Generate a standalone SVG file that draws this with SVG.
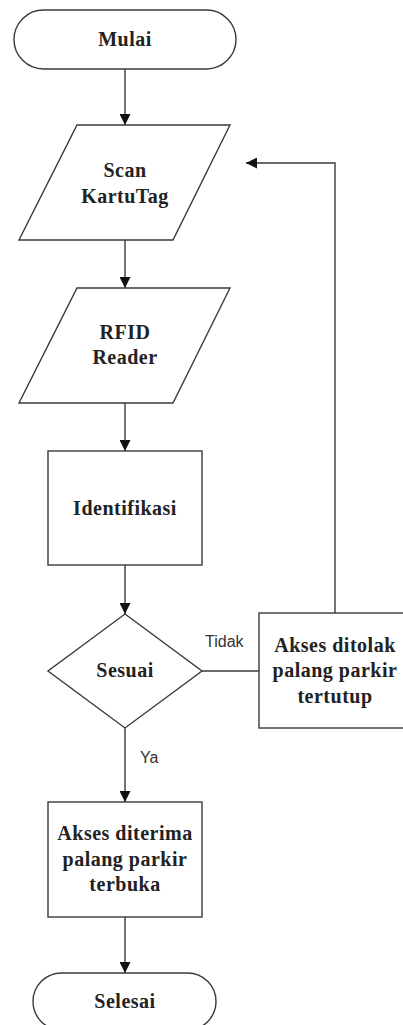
<svg xmlns="http://www.w3.org/2000/svg" width="403" height="1025" viewBox="0 0 403 1025">
<style>
.s{fill:#fff;stroke:#3a3a3a;stroke-width:1.4}
.t{font-family:"Liberation Serif",serif;font-weight:bold;font-size:20px;letter-spacing:0.5px;fill:#222;text-anchor:middle}
.l{font-family:"Liberation Sans",sans-serif;font-size:16px;fill:#333}
.c{fill:none;stroke:#3a3a3a;stroke-width:1.4}
</style>
<defs>
<marker id="a" viewBox="0 0 10 10" refX="10" refY="5" markerWidth="11" markerHeight="11" markerUnits="userSpaceOnUse" orient="auto">
<path d="M0,0 L10,5 L0,10 Z" fill="#111"/>
</marker>
</defs>
<rect width="403" height="1025" fill="#fff"/>
<g id="connectors">
<line class="c" x1="125" y1="69" x2="125" y2="125" marker-end="url(#a)"/>
<line class="c" x1="125" y1="240" x2="125" y2="288" marker-end="url(#a)"/>
<line class="c" x1="125" y1="403" x2="125" y2="451" marker-end="url(#a)"/>
<line class="c" x1="125" y1="565" x2="125" y2="614" marker-end="url(#a)"/>
<line class="c" x1="202" y1="671" x2="259" y2="671"/>
<polyline class="c" points="335,613 335,163 246,163" marker-end="url(#a)"/>
<line class="c" x1="125" y1="728" x2="125" y2="802" marker-end="url(#a)"/>
<line class="c" x1="125" y1="917" x2="125" y2="973" marker-end="url(#a)"/>
<text class="l" x="205" y="647">Tidak</text>
<text class="l" x="140" y="763">Ya</text>
</g>
<g id="mulai">
<rect class="s" x="14" y="10" width="222" height="59" rx="29.5"/>
<text class="t" x="125" y="46">Mulai</text>
</g>
<g id="scan">
<polygon class="s" points="77,125 230,125 173,240 19,240"/>
<text class="t" x="125" y="177">Scan</text>
<text class="t" x="125" y="203">KartuTag</text>
</g>
<g id="rfid">
<polygon class="s" points="77,288 230,288 173,403 19,403"/>
<text class="t" x="125" y="339">RFID</text>
<text class="t" x="125" y="364">Reader</text>
</g>
<g id="identifikasi">
<rect class="s" x="48" y="451" width="154" height="114"/>
<text class="t" x="125" y="515">Identifikasi</text>
</g>
<g id="sesuai">
<polygon class="s" points="125,614 202,671 125,728 48,671"/>
<text class="t" x="125" y="677">Sesuai</text>
</g>
<g id="ditolak">
<rect class="s" x="259" y="613" width="152" height="115"/>
<text class="t" x="335" y="652">Akses ditolak</text>
<text class="t" x="335" y="677">palang parkir</text>
<text class="t" x="335" y="703">tertutup</text>
</g>
<g id="diterima">
<rect class="s" x="48" y="802" width="154" height="115"/>
<text class="t" x="125" y="840">Akses diterima</text>
<text class="t" x="125" y="866">palang parkir</text>
<text class="t" x="125" y="891">terbuka</text>
</g>
<g id="selesai">
<rect class="s" x="33" y="973" width="183" height="57" rx="28.5"/>
<text class="t" x="125" y="1008">Selesai</text>
</g>
</svg>
